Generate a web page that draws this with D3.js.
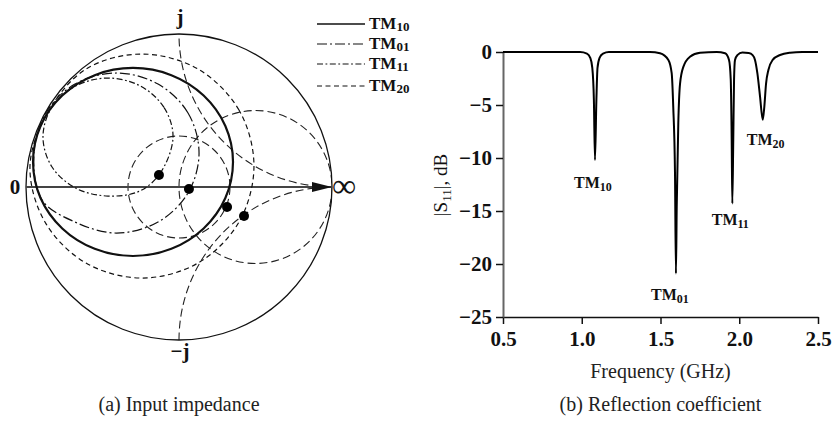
<!DOCTYPE html>
<html>
<head>
<meta charset="utf-8">
<script src="https://cdn.jsdelivr.net/npm/d3@7"></script>
<style>
  body { margin: 0; background: #fff; }
  svg { display: block; font-family: "Liberation Serif", "Times New Roman", serif; }
</style>
</head>
<body>
<svg id="chart" width="833" height="421"></svg>
<script>
// ---- data ----
const modes = ['TM10', 'TM01', 'TM11', 'TM20'];

// impedance loci as reflection coefficient [re, im]
const locusTM10 = [[0.353, 0.163], [0.303, 0.399], [0.161, 0.598], [-0.050, 0.731], [-0.301, 0.778],
    [-0.551, 0.731], [-0.763, 0.598], [-0.905, 0.399], [-0.954, 0.163], [-0.905, -0.072],
    [-0.763, -0.271], [-0.551, -0.404], [-0.301, -0.451], [-0.050, -0.404], [0.161, -0.271],
    [0.303, -0.072]];
const locusTM01 = [[0.131, 0.222], [0.059, 0.484], [-0.137, 0.673], [-0.408, 0.745], [-0.680, 0.673],
    [-0.870, 0.484], [-0.948, 0.222], [-0.895, -0.085], [-0.680, -0.229], [-0.408, -0.301],
    [-0.137, -0.229], [0.059, -0.039]];
const locusTM11 = [[-0.039, 0.327], [-0.098, 0.520], [-0.252, 0.660], [-0.464, 0.712], [-0.676, 0.660],
    [-0.832, 0.520], [-0.889, 0.327], [-0.832, 0.134], [-0.676, -0.007], [-0.464, -0.059],
    [-0.255, -0.026], [-0.118, 0.098]];
const locusTM20 = [[0.490, 0.137], [0.392, 0.503], [0.124, 0.771], [-0.242, 0.869], [-0.608, 0.771],
    [-0.856, 0.490], [-0.974, 0.137], [-0.876, -0.229], [-0.608, -0.497], [-0.242, -0.595],
    [0.124, -0.497], [0.392, -0.229]];

// resonance points (reflection coefficient)
const resRe = [0.314, 0.065, -0.131, 0.425];
const resIm = [-0.131, -0.013, 0.078, -0.190];

// Smith chart reference lines
const rCircles = [1];        // constant resistance
const xArcs = [1, -1];       // constant reactance
const vswrCircles = [2];     // constant VSWR

// |S11| vs frequency
const freq = [0.5, 0.989, 1.033, 1.054, 1.067, 1.077, 1.084, 1.093, 1.100, 1.113, 1.135, 1.173,
    1.433, 1.497, 1.550, 1.571, 1.581, 1.592, 1.598, 1.603, 1.613, 1.624, 1.645, 1.687, 1.751,
    1.857, 1.910, 1.935, 1.946, 1.952, 1.956, 1.962, 1.967, 1.973, 1.988, 2.020, 2.060, 2.085,
    2.100, 2.115, 2.132, 2.149, 2.159, 2.170, 2.185, 2.212, 2.259, 2.322, 2.40, 2.5];
const s11 = [0, 0, -0.15, -0.55, -1.5, -4.5, -10.2, -4.5, -1.5, -0.55, -0.15, 0,
    0, -0.12, -0.75, -2.0, -5.2, -11.4, -20.9, -14.6, -6.7, -3.0, -1.4, -0.45, -0.07,
    0, -0.12, -0.75, -2.6, -8.3, -14.3, -8.3, -2.6, -0.75, -0.3, -0.05, -0.1, -0.3,
    -0.75, -2.0, -4.2, -6.4, -5.2, -3.0, -1.7, -0.75, -0.28, -0.07, 0, 0];

const tipFreq = [1.084, 1.598, 1.956, 2.149];
const tipDb = [-10.2, -20.9, -14.3, -6.4];

const freqTicks = [0.5, 1.0, 1.5, 2.0, 2.5];
const dbTicks = [0, -5, -10, -15, -20, -25];

// ---- styles ----
const modeStyle = {
    TM10: { dash: null, width: 2.2 },
    TM01: { dash: '10,3,2,3', width: 1.2 },
    TM11: { dash: '6,2.5,1.8,2.5', width: 1.2 },
    TM20: { dash: '5,3.5', width: 1.2 }
};
const loci = { TM10: locusTM10, TM01: locusTM01, TM11: locusTM11, TM20: locusTM20 };

const svg = d3.select('#chart');

// ================= (a) Smith chart =================
const cx = 179, cy = 187, R = 153;
const su = d3.scaleLinear().domain([-1, 1]).range([cx - R, cx + R]);
const sv = d3.scaleLinear().domain([-1, 1]).range([cy + R, cy - R]);
const sr = d3.scaleLinear().domain([0, 1]).range([0, R]);

svg.append('defs').append('clipPath').attr('id', 'unit')
    .append('circle').attr('cx', su(0)).attr('cy', sv(0)).attr('r', sr(1));
svg.select('defs').append('marker')
    .attr('id', 'arrow').attr('viewBox', '0 0 20 10')
    .attr('refX', 20).attr('refY', 5)
    .attr('markerWidth', 20).attr('markerHeight', 10)
    .attr('markerUnits', 'userSpaceOnUse').attr('orient', 'auto')
    .append('path').attr('d', 'M0,0 L20,5 L0,10 Z').attr('fill', '#111');

const smith = svg.append('g');
const grid = smith.append('g').attr('clip-path', 'url(#unit)')
    .attr('fill', 'none').attr('stroke', '#222').attr('stroke-width', 1.1)
    .attr('stroke-dasharray', '8,4');

rCircles.forEach(function(r) {
    grid.append('circle')
        .attr('cx', su(r / (1 + r))).attr('cy', sv(0)).attr('r', sr(1 / (1 + r)));
});
xArcs.forEach(function(x) {
    grid.append('circle')
        .attr('cx', su(1)).attr('cy', sv(1 / x)).attr('r', sr(1 / Math.abs(x)));
});
vswrCircles.forEach(function(s) {
    grid.append('circle')
        .attr('cx', su(0)).attr('cy', sv(0)).attr('r', sr((s - 1) / (s + 1)));
});

// outer circle
smith.append('circle')
    .attr('cx', su(0)).attr('cy', sv(0)).attr('r', sr(1))
    .attr('fill', 'none').attr('stroke', '#111').attr('stroke-width', 1.3);

// real axis with arrow
smith.append('line')
    .attr('x1', su(-1)).attr('y1', sv(0)).attr('x2', su(1)).attr('y2', sv(0))
    .attr('stroke', '#444').attr('stroke-width', 1.8)
    .attr('marker-end', 'url(#arrow)');

// mode loci
const locusLine = d3.line()
    .x(function(d) { return su(d[0]); })
    .y(function(d) { return sv(d[1]); })
    .curve(d3.curveCatmullRomClosed.alpha(0.5));

const lociG = smith.append('g').attr('clip-path', 'url(#unit)');
modes.forEach(function(m) {
    lociG.append('path')
        .attr('d', locusLine(loci[m]))
        .attr('fill', 'none').attr('stroke', '#111')
        .attr('stroke-width', modeStyle[m].width)
        .attr('stroke-dasharray', modeStyle[m].dash);
});

smith.selectAll('circle.res').data(modes).join('circle')
    .attr('class', 'res')
    .attr('cx', function(d, i) { return su(resRe[i]); })
    .attr('cy', function(d, i) { return sv(resIm[i]); })
    .attr('r', 5).attr('fill', '#000');

// labels
const bold = { 'font-weight': 'bold', 'font-size': '21px', 'fill': '#111' };
function addText(g, x, y, txt, attrs) {
    const t = g.append('text').attr('x', x).attr('y', y).text(txt);
    Object.keys(attrs).forEach(function(k) { t.attr(k, attrs[k]); });
    return t;
}
addText(smith, 15, sv(0) + 7, '0', Object.assign({ 'text-anchor': 'middle' }, bold));
addText(smith, 344, sv(0) + 10, '∞', { 'text-anchor': 'middle', 'font-size': '34px', 'fill': '#111' });
addText(smith, su(0) + 1, 24, 'j', Object.assign({ 'text-anchor': 'middle' }, bold));
addText(smith, su(0) + 1, 358, '−j', Object.assign({ 'text-anchor': 'middle' }, bold));

// legend
const legend = svg.append('g').attr('transform', 'translate(317,0)');
const legendY = [24, 44, 64, 86];
modes.forEach(function(m, i) {
    legend.append('line')
        .attr('x1', 0).attr('x2', 48).attr('y1', legendY[i]).attr('y2', legendY[i])
        .attr('stroke', '#111').attr('stroke-width', m === 'TM10' ? 1.3 : 1.2)
        .attr('stroke-dasharray', modeStyle[m].dash);
    const t = legend.append('text').attr('x', 52).attr('y', legendY[i] + 5)
        .attr('font-weight', 'bold').attr('font-size', '17px').attr('fill', '#111');
    t.append('tspan').text('TM');
    t.append('tspan').attr('font-size', '13px').attr('dy', 2).text(m.slice(2));
});

addText(svg, 179, 411, '(a) Input impedance', { 'text-anchor': 'middle', 'font-size': '20px', 'fill': '#222' });

// ================= (b) reflection coefficient =================
const x = d3.scaleLinear().domain([0.5, 2.5]).range([503, 818]);
const y = d3.scaleLinear().domain([-25, 0]).range([317, 52]);

const gx = svg.append('g').attr('transform', 'translate(0,' + y(-25) + ')')
    .call(d3.axisBottom(x).tickValues(freqTicks).tickFormat(d3.format('.1f'))
        .tickSize(7).tickSizeOuter(0));
gx.select('.domain').attr('stroke', '#111').attr('stroke-width', 1.5);
gx.selectAll('.tick line').attr('stroke', '#111').attr('stroke-width', 1.5);
gx.selectAll('.tick text').attr('font-family', '"Liberation Serif", serif')
    .attr('font-size', '21px').attr('font-weight', 'bold').attr('fill', '#111').attr('dy', '0.9em');

const gy = svg.append('g').attr('transform', 'translate(' + x(0.5) + ',0)')
    .call(d3.axisLeft(y).tickValues(dbTicks).tickFormat(d3.format('d'))
        .tickSize(7).tickSizeOuter(0));
gy.select('.domain').attr('stroke', '#666').attr('stroke-width', 2);
gy.selectAll('.tick line').attr('stroke', '#111').attr('stroke-width', 1.5);
gy.selectAll('.tick text').attr('font-family', '"Liberation Serif", serif')
    .attr('font-size', '21px').attr('font-weight', 'bold').attr('fill', '#111').attr('x', -11);

const s11Line = d3.line()
    .x(function(d, i) { return x(freq[i]); })
    .y(function(d) { return y(d); })
    .curve(d3.curveMonotoneX);
svg.append('path')
    .attr('d', s11Line(s11))
    .attr('fill', 'none').attr('stroke', '#000').attr('stroke-width', 2);

// mode labels under each dip
const labelDx = [-2, -6, -2, 3];
const labelDy = [28, 26, 21, 25];
modes.forEach(function(m, i) {
    const t = svg.append('text')
        .attr('x', x(tipFreq[i]) + labelDx[i]).attr('y', y(tipDb[i]) + labelDy[i])
        .attr('text-anchor', 'middle').attr('font-weight', 'bold')
        .attr('font-size', '16px').attr('fill', '#111');
    t.append('tspan').text('TM');
    t.append('tspan').attr('font-size', '12px').attr('dy', 3).text(m.slice(2));
});

// axis titles
const yl = svg.append('text')
    .attr('transform', 'translate(447,185) rotate(-90)')
    .attr('text-anchor', 'middle').attr('font-size', '19px').attr('fill', '#111');
yl.append('tspan').text('|S');
yl.append('tspan').attr('font-size', '13px').attr('dy', 4).text('11');
yl.append('tspan').attr('dy', -4).text('|, dB');

addText(svg, x(1.5), 378, 'Frequency (GHz)', { 'text-anchor': 'middle', 'font-size': '20px', 'fill': '#222' });
addText(svg, x(1.5), 411, '(b) Reflection coefficient', { 'text-anchor': 'middle', 'font-size': '20px', 'fill': '#222' });
</script>
</body>
</html>
